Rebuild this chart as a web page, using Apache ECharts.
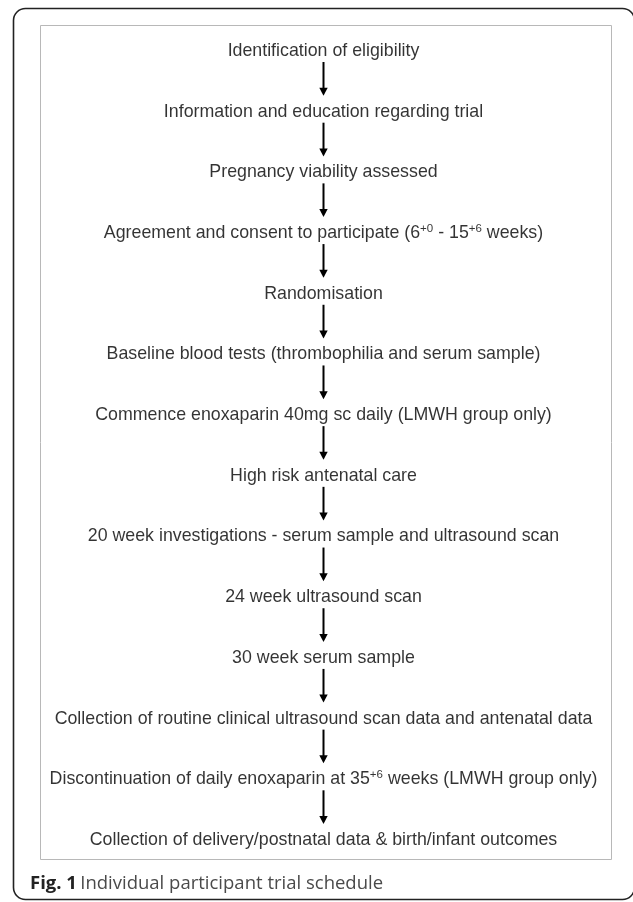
<!DOCTYPE html>
<html>
<head>
<meta charset="utf-8">
<script src="https://cdn.jsdelivr.net/npm/echarts@6/dist/echarts.min.js"></script>
<style>
html,body{margin:0;padding:0;background:#fff;}
#chart{width:633px;height:902px;}
</style>
</head>
<body>
<div id="chart"></div>
<script>
// Flowchart steps (rich text markup for superscripts)
const steps = [
  "Identification of eligibility",
  "Information and education regarding trial",
  "Pregnancy viability assessed",
  "Agreement and consent to participate (6{sup|+0} - 15{sup|+6} weeks)",
  "Randomisation",
  "Baseline blood tests (thrombophilia and serum sample)",
  "Commence enoxaparin 40mg sc daily (LMWH group only)",
  "High risk antenatal care",
  "20 week investigations - serum sample and ultrasound scan",
  "24 week ultrasound scan",
  "30 week serum sample",
  "Collection of routine clinical ultrasound scan data and antenatal data",
  "Discontinuation of daily enoxaparin at 35{sup|+6} weeks (LMWH group only)",
  "Collection of delivery/postnatal data & birth/infant outcomes"
];
// Arrows connect step i -> step i+1
const arrowsFrom = [0,1,2,3,4,5,6,7,8,9,10,11,12];
const captionBold = "Fig. 1";
const captionText = "Individual participant trial schedule";

const chart = echarts.init(document.getElementById('chart'), null, {renderer:'canvas'});

const option = {
  animation: false,
  backgroundColor: '#fff',
  grid: { left: 40, right: 26, top: 51, bottom: 62, show: false },
  xAxis: { type: 'value', min: 0, max: 1, show: false },
  yAxis: { type: 'value', min: 0, max: steps.length - 1, inverse: true, show: false },
  graphic: [
    { type: 'rect', z: 0, silent: true,
      shape: { x: 13.5, y: 8.5, width: 621, height: 891, r: 12 },
      style: { fill: 'none', stroke: '#222', lineWidth: 1.6 } },
    { type: 'rect', z: 0, silent: true,
      shape: { x: 40.5, y: 25.5, width: 571, height: 834 },
      style: { fill: 'none', stroke: '#b8b8b8', lineWidth: 1 } },
    { type: 'text', z: 5, silent: true, x: 30, y: 884,
      style: {
        text: '{b|' + captionBold + '} {n|' + captionText + '}',
        verticalAlign: 'middle',
        rich: {
          b: { fontFamily: 'Open Sans', fontWeight: 'bold', fontSize: 18.5, fill: '#222' },
          n: { fontFamily: 'Open Sans', fontSize: 18.5, fill: '#4a4a4a' }
        }
      } }
  ],
  series: [
    {
      type: 'scatter',
      symbolSize: 0,
      data: steps.map((s, i) => [0.5, i]),
      label: {
        show: true,
        position: 'inside',
        formatter: (p) => steps[p.dataIndex],
        fontFamily: 'Liberation Sans, Arial, sans-serif',
        fontSize: 17.8,
        color: '#000',
        textBorderWidth: 0,
        rich: {
          sup: { fontSize: 11.5, color: '#000', textBorderWidth: 0,
                 fontFamily: 'Liberation Sans, Arial, sans-serif', padding: [0, 0, 9, 0] }
        }
      },
      silent: true,
      z: 3
    },
    {
      type: 'custom',
      data: arrowsFrom.map(i => [i]),
      silent: true,
      z: 2,
      renderItem: function (params, api) {
        const i = api.value(0);
        const p0 = api.coord([0.5, i]);
        const p1 = api.coord([0.5, i + 1]);
        const x = Math.round(p0[0]) - 0.5;
        const y0 = p0[1] + 11;
        const tip = p1[1] - 16;
        const headH = 8, headW = 4.2;
        return {
          type: 'group',
          children: [
            { type: 'line', shape: { x1: x, y1: y0, x2: x, y2: tip - headH + 1 },
              style: { stroke: '#000', lineWidth: 2 } },
            { type: 'polygon', shape: { points: [[x - headW, tip - headH], [x + headW, tip - headH], [x, tip]] },
              style: { fill: '#000' } }
          ]
        };
      }
    }
  ]
};
chart.setOption(option);
</script>
</body>
</html>
